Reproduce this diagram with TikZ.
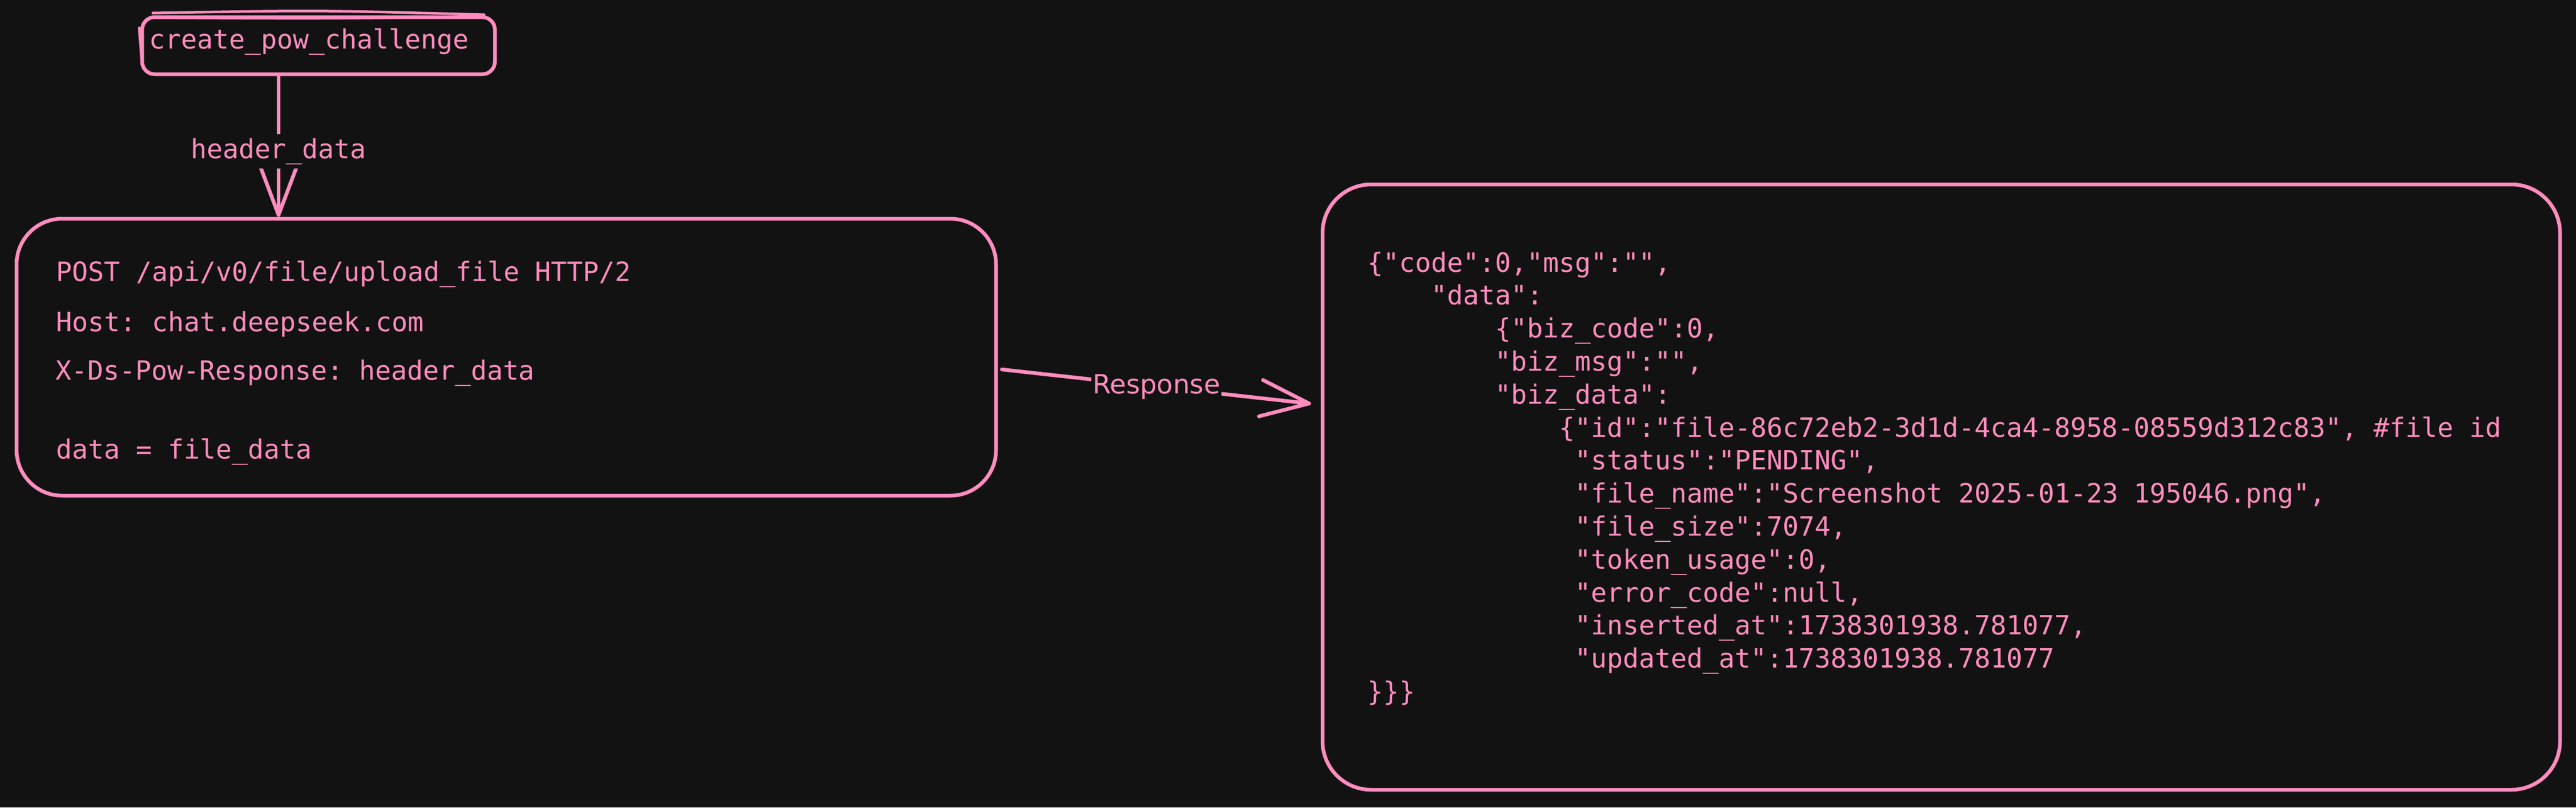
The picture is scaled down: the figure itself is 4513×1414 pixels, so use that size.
\documentclass[tikz,border=0pt]{standalone}
\usepackage{fontspec}
\setmonofont{DejaVu Sans Mono}
\setsansfont{DejaVu Sans}
\usetikzlibrary{arrows.meta,calc}
\definecolor{bgc}{HTML}{121212}
\definecolor{pk}{RGB}{255,140,190}
\begin{document}
\begin{tikzpicture}[x=1pt,y=-1pt,
  boxst/.style={draw=pk, line width=6.5pt, rounded corners=#1, inner sep=0pt},
  code/.style={text=pk, font=\ttfamily\fontsize{46.5pt}{56pt}\selectfont, inner sep=0pt, anchor=base west},
  conn/.style={draw=pk, line width=6.5pt, line cap=round, -{Straight Barb[length=85pt,width=64pt,round]}},
  lblmono/.style={fill=bgc, text=pk, font=\ttfamily\fontsize{46.5pt}{56pt}\selectfont, inner xsep=2pt, inner ysep=7pt},
  lblsans/.style={fill=bgc, text=pk, font=\sffamily\fontsize{46.5pt}{56pt}\selectfont, inner xsep=2pt, inner ysep=6pt},
  sketch/.style={draw=pk, line width=4.5pt, line cap=round}
]
\fill[bgc] (0,0) rectangle (4513,1414);
\useasboundingbox (0,0) rectangle (4513,1414);

% boxes
\node[boxst=22pt, minimum width=618pt, minimum height=100pt] (top) at (558,80) {};
\draw[sketch] ($(top.north west)+(22,-4)$) .. controls ($(top.north)+(0,-9)$) .. ($(top.north east)+(-22,-1)$);
\draw[sketch] ($(top.north west)+(30,4)$) .. controls ($(top.north)+(0,6)$) .. ($(top.north east)+(-30,2)$);
\draw[sketch] ($(top.south west)+(24,-3)$) -- ($(top.south east)+(-24,-4)$);
\draw[sketch] ($(top.north west)+(-2,22)$) -- ($(top.south west)+(3,-22)$);
\node[boxst=80pt, minimum width=1716pt, minimum height=485pt] (lbox) at (887,625.5) {};
\node[boxst=85pt, minimum width=2168pt, minimum height=1060pt] (rbox) at (3401,853) {};

% texts
\node[code] (t0) at (261,85) {create\_pow\_challenge};

\node[code] (l1) at (98,492) {POST /api/v0/file/upload\_file HTTP/2};
\node[code] (l2) at (98,580) {Host: chat.deepseek.com};
\node[code] (l3) at (97,665) {X-Ds-Pow-Response: header\_data};
\node[code] (l4) at (98,803) {data = file\_data};

\node[code] (j1)  at (2395,476.0)  {\{"code":0,"msg":"",};
\node[code] (j2)  at (2507,533.8)  {"data":};
\node[code] (j3)  at (2619,591.6)  {\{"biz\_code":0,};
\node[code] (j4)  at (2619,649.4)  {"biz\_msg":"",};
\node[code] (j5)  at (2619,707.2)  {"biz\_data":};
\node[code] (j6)  at (2731,765.0)  {\{"id":"file-86c72eb2-3d1d-4ca4-8958-08559d312c83", \#file id};
\node[code] (j7)  at (2759,822.8)  {"status":"PENDING",};
\node[code] (j8)  at (2759,880.6)  {"file\_name":"Screenshot 2025-01-23 195046.png",};
\node[code] (j9)  at (2759,938.4)  {"file\_size":7074,};
\node[code] (j10) at (2759,996.2)  {"token\_usage":0,};
\node[code] (j11) at (2759,1054.0) {"error\_code":null,};
\node[code] (j12) at (2759,1111.8) {"inserted\_at":1738301938.781077,};
\node[code] (j13) at (2759,1169.6) {"updated\_at":1738301938.781077};
\node[code] (j14) at (2395,1227.4) {\}\}\}};

% connectors
\coordinate (a1) at ($(top.south)+(-70,0)$);
\coordinate (a2) at (a1 |- lbox.north);
\draw[conn] (a1) -- node[lblmono, pos=0.535] (hd) {header\_data} (a2);

\coordinate (r1) at ($(lbox.east)+(7,21.5)$);
\coordinate (r2) at ($(rbox.west)+(-17,-146)$);
\draw[conn] (r1) -- node[lblsans] (resp) {Response} (r2);
\end{tikzpicture}
\end{document}
